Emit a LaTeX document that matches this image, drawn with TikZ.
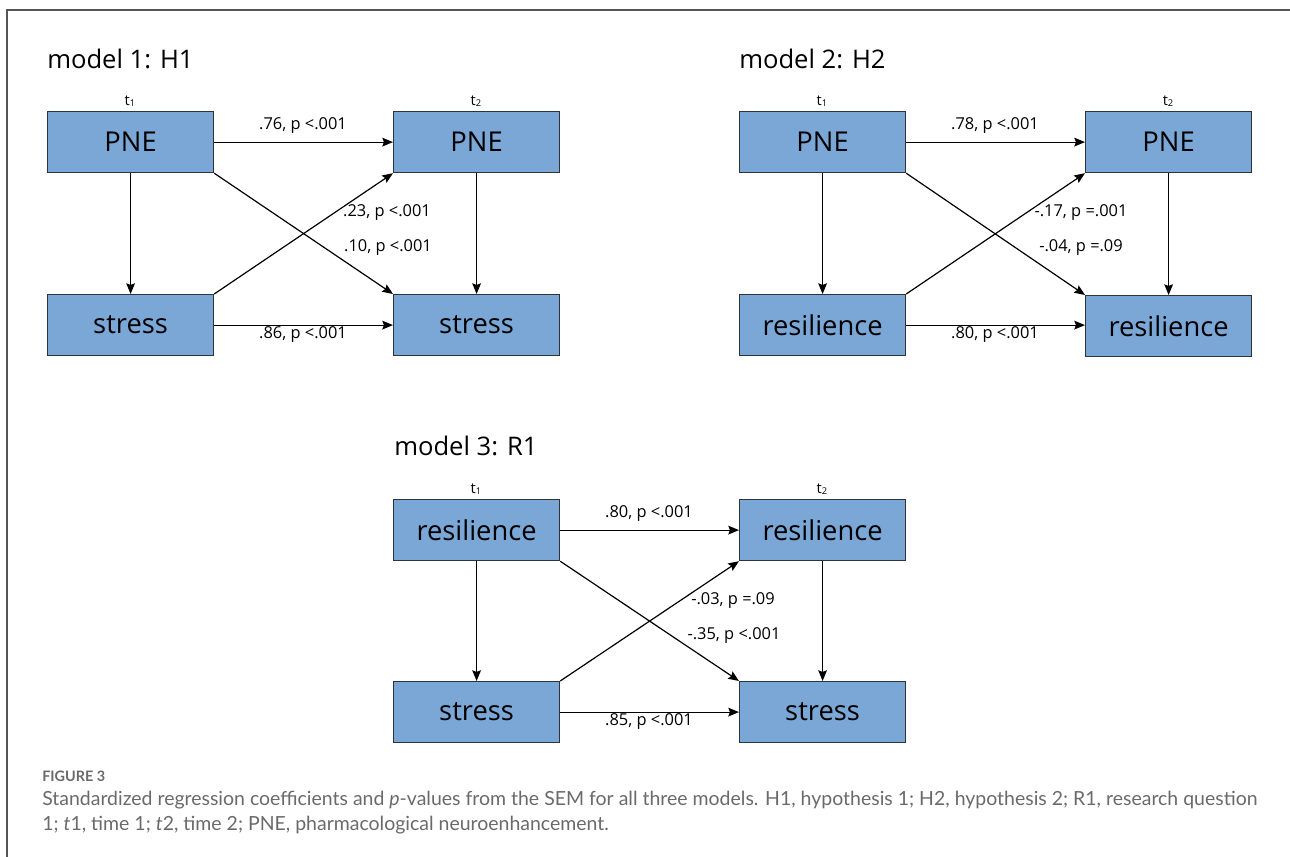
\documentclass[tikz,border=0pt]{standalone}
\usepackage{fontspec}
\setmainfont{Open Sans}
\newfontfamily\capfont{Lato}
\usetikzlibrary{arrows.meta}
\definecolor{boxfill}{HTML}{7BA7D7}
\definecolor{boxline}{HTML}{2E3338}
\definecolor{capgray}{HTML}{6A6A6A}
\definecolor{framegray}{HTML}{555555}
\newcommand{\tsub}[1]{t\raisebox{-0.1em}{\fontsize{7}{7}\selectfont #1}}
\begin{document}
\begin{tikzpicture}[x=0.75pt,y=-0.75pt,
  var/.style={draw=boxline, line width=0.9pt, fill=boxfill, anchor=north west,
    minimum width=124.5pt, minimum height=45.75pt, inner sep=0pt,
    font=\fontsize{20.5}{24}\selectfont},
  arr/.style={-{Stealth[length=8pt,width=6.5pt,inset=1.2pt]}, line width=0.9pt, black},
  coef/.style={font=\fontsize{12.3}{14}\selectfont, inner sep=1pt},
  mtitle/.style={font=\fontsize{19.2}{22}\selectfont, anchor=base west, inner sep=0pt},
  tlab/.style={font=\fontsize{11}{12}\selectfont, inner sep=0pt}]
\useasboundingbox (0,0) rectangle (1290,857);
\draw[framegray, line width=1pt] (1290,10) -- (7,10) -- (7,857);

% model 1
\node[mtitle] (m1) at (47,68) {model 1: H1};
\node[var] (a1) at (47,111) {PNE};
\node[var] (a2) at (393,111) {PNE};
\node[var] (a3) at (47,294) {stress};
\node[var] (a4) at (393,294) {stress};
\node[tlab] (ta1) at (130,101) {\tsub{1}};
\node[tlab] (ta2) at (476,101) {\tsub{2}};
\draw[arr] (a1.east) -- (a2.west);
\draw[arr] (a3.east) -- (a4.west);
\draw[arr] (a1.south) -- (a3.north);
\draw[arr] (a2.south) -- (a4.north);
\draw[arr] (a1.south east) -- (a4.north west);
\draw[arr] (a3.north east) -- (a2.south west);
\node[coef] (la1) at (303,126) {.76, p <.001};
\node[coef] (la2) at (303,335) {.86, p <.001};
\node[coef] (la3) at (387,213) {.23, p <.001};
\node[coef] (la4) at (388,248) {.10, p <.001};

% model 2
\node[mtitle] (m2) at (739,68) {model 2: H2};
\node[var] (b1) at (739,111) {PNE};
\node[var] (b2) at (1085,111) {PNE};
\node[var] (b3) at (739,294) {resilience};
\node[var] (b4) at (1085,295) {resilience};
\node[tlab] (tb1) at (822,101) {\tsub{1}};
\node[tlab] (tb2) at (1168,101) {\tsub{2}};
\draw[arr] (b1.east) -- (b2.west);
\draw[arr] (b3.east) -- (b4.west |- b3.east);
\draw[arr] (b1.south) -- (b3.north);
\draw[arr] (b2.south) -- (b4.north);
\draw[arr] (b1.south east) -- (b4.north west);
\draw[arr] (b3.north east) -- (b2.south west);
\node[coef] (lb1) at (995,126) {.78, p <.001};
\node[coef] (lb2) at (995,335) {.80, p <.001};
\node[coef] (lb3) at (1081,213) {-.17, p =.001};
\node[coef] (lb4) at (1081,248) {-.04, p =.09};

% model 3
\node[mtitle] (m3) at (394,455) {model 3: R1};
\node[var] (c1) at (393,499) {resilience};
\node[var] (c2) at (739,499) {resilience};
\node[var] (c3) at (393,681) {stress};
\node[var] (c4) at (739,681) {stress};
\node[tlab] (tc1) at (476,489) {\tsub{1}};
\node[tlab] (tc2) at (822,489) {\tsub{2}};
\draw[arr] (c1.east) -- (c2.west);
\draw[arr] (c3.east) -- (c4.west);
\draw[arr] (c1.south) -- (c3.north);
\draw[arr] (c2.south) -- (c4.north);
\draw[arr] (c1.south east) -- (c4.north west);
\draw[arr] (c3.north east) -- (c2.south west);
\node[coef] (lc1) at (649,514) {.80, p <.001};
\node[coef] (lc2) at (649,722) {.85, p <.001};
\node[coef] (lc3) at (733,601) {-.03, p =.09};
\node[coef] (lc4) at (734,636) {-.35, p <.001};

% caption
\node[anchor=base west, inner sep=0pt, text=capgray, font=\capfont\bfseries\fontsize{10.8}{12}\selectfont] (fig) at (42,781) {FIGURE 3};
\node[anchor=base west, inner sep=0pt, text=capgray, font=\capfont\fontsize{14.6}{17}\selectfont] (cap1) at (42,805) {Standardized regression coefficients and \textit{p}-values from the SEM for all three models. H1, hypothesis 1; H2, hypothesis 2; R1, research question};
\node[anchor=base west, inner sep=0pt, text=capgray, font=\capfont\fontsize{14.6}{17}\selectfont] (cap2) at (42,830) {1; \textit{t}1, time 1; \textit{t}2, time 2; PNE, pharmacological neuroenhancement.};
\end{tikzpicture}
\end{document}
